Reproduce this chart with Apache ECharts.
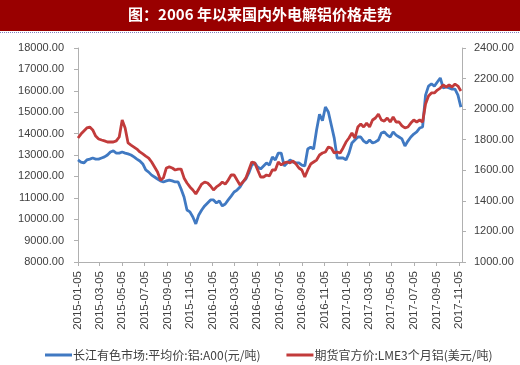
<!DOCTYPE html>
<html>
<head>
<meta charset="utf-8">
<script src="https://cdn.jsdelivr.net/npm/echarts@6/dist/echarts.min.js"></script>
<style>
html,body{margin:0;padding:0;background:#fff;}
#main{width:520px;height:365px;}
</style>
</head>
<body>
<div id="main"></div>
<script>
// ---- data ----
var titleText = '图：2006 年以来国内外电解铝价格走势';
var seriesNames = ['长江有色市场:平均价:铝:A00(元/吨)', '期货官方价:LME3个月铝(美元/吨)'];
var axisStart = '2015-01-05';
var axisEnd = '2017-11-13';
var sampleStepDays = 8; // samples every 8 days starting at axisStart
var tickLabels = ['2015-01-05','2015-03-05','2015-05-05','2015-07-05','2015-09-05','2015-11-05',
  '2016-01-05','2016-03-05','2016-05-05','2016-07-05','2016-09-05','2016-11-05',
  '2017-01-05','2017-03-05','2017-05-05','2017-07-05','2017-09-05','2017-11-05'];
var leftTicks = [8000, 18000, 1000];
var rightTicks = [1000, 2400, 200];

var cjValues = [12770,12670,12630,12770,12810,12860,12810,12810,12860,12910,
  13000,13140,13190,13090,13090,13140,13090,13050,13000,12910,
  12810,12720,12580,12300,12200,12060,11970,11880,11790,11740,
  11790,11830,11790,11740,11740,11410,11040,10430,10340,10100,
  9780,10200,10430,10620,10760,10900,10900,10760,10850,10620,
  10710,10900,11080,11270,11360,11500,11740,11880,12160,12530,
  12630,12440,12350,12490,12630,12530,12910,12770,13090,13090,
  12490,12630,12770,12670,12630,12630,12530,12490,13280,13370,
  13280,14170,14900,14600,15240,15010,14400,13790,12860,12860,
  12860,12770,13090,13560,13700,13840,13840,13650,13560,13700,
  13560,13610,13700,14030,14080,13930,13840,14080,13930,13840,
  13750,13420,13650,13840,13980,14080,14260,14310,15800,16220,
  16320,16220,16410,16600,16130,16180,16130,16080,16080,15800,
  15240];
var lmeValues = [1811,1837,1857,1877,1883,1864,1824,1805,1798,1792,
  1785,1785,1785,1792,1818,1929,1877,1779,1765,1752,
  1739,1720,1707,1693,1680,1654,1622,1589,1536,1550,
  1615,1622,1615,1602,1608,1608,1550,1517,1491,1471,
  1445,1478,1510,1523,1517,1497,1471,1491,1504,1523,
  1510,1536,1569,1569,1536,1504,1523,1550,1602,1654,
  1648,1602,1556,1556,1569,1563,1602,1602,1654,1635,
  1648,1654,1648,1661,1641,1615,1602,1556,1602,1641,
  1654,1667,1700,1713,1720,1752,1746,1713,1720,1713,
  1746,1785,1811,1844,1811,1883,1903,1883,1909,1883,
  1929,1942,1968,1929,1922,1942,1916,1949,1916,1916,
  1890,1877,1883,1909,1929,1916,1929,1916,2034,2086,
  2106,2106,2125,2138,2158,2145,2158,2145,2164,2151,
  2119];

// ---- build axis categories (daily) ----
function parseUTC(s){var p=s.split('-');return Date.UTC(+p[0],+p[1]-1,+p[2]);}
function fmt(t){var d=new Date(t);var m=d.getUTCMonth()+1,dd=d.getUTCDate();
  return d.getUTCFullYear()+'-'+(m<10?'0':'')+m+'-'+(dd<10?'0':'')+dd;}
var DAY=86400000;
var t0=parseUTC(axisStart), t1=parseUTC(axisEnd);
var categories=[];
for(var t=t0;t<=t1;t+=DAY){categories.push(fmt(t));}
function pairs(vals){
  return vals.map(function(v,i){return [fmt(t0+i*sampleStepDays*DAY), v];});
}
var tickSet={}; tickLabels.forEach(function(s){tickSet[s]=true;});
function showTick(idx,val){return !!tickSet[val];}

var chart=echarts.init(document.getElementById('main'));
var font='"Liberation Sans", Arial, sans-serif';
var cjk='"Noto Sans CJK SC", sans-serif';
chart.setOption({
  animation:false,
  backgroundColor:'#fff',
  graphic:[
    {type:'rect',left:0,top:0,shape:{width:520,height:31},style:{fill:'#990000'},z:0},
    {type:'line',shape:{x1:0,y1:32.5,x2:520,y2:32.5},style:{stroke:'#8080c0',lineWidth:1,lineDash:[1,1]},z:0},
    {type:'text',left:'center',top:7,style:{text:titleText,fill:'#ffffff',font:'bold 15px '+cjk},z:10}
  ],
  grid:{left:78,right:58,top:48,bottom:103,containLabel:false},
  legend:{
    left:40,top:344,itemWidth:27,itemHeight:3,itemGap:26,
    icon:'rect',
    textStyle:{fontSize:12,color:'#404040',fontFamily:cjk,padding:[0,0,0,-4]},
    data:seriesNames
  },
  xAxis:{
    type:'category',boundaryGap:false,data:categories,
    axisLine:{lineStyle:{color:'#b0b0b0',width:1}},
    axisTick:{show:true,interval:showTick,length:4,lineStyle:{color:'#b0b0b0'}},
    axisLabel:{interval:showTick,rotate:90,fontSize:11.5,color:'#404040',fontFamily:font,margin:9},
    splitLine:{show:false}
  },
  yAxis:[
    {type:'value',min:leftTicks[0],max:leftTicks[1],interval:leftTicks[2],
     axisLine:{show:true,lineStyle:{color:'#b0b0b0'}},
     axisTick:{show:true,length:4,lineStyle:{color:'#b0b0b0'}},
     axisLabel:{fontSize:11,color:'#404040',fontFamily:font,margin:14,formatter:function(v){return v.toFixed(2);}},
     splitLine:{show:false}},
    {type:'value',min:rightTicks[0],max:rightTicks[1],interval:rightTicks[2],position:'right',
     axisLine:{show:true,lineStyle:{color:'#b0b0b0'}},
     axisTick:{show:true,length:4,lineStyle:{color:'#b0b0b0'}},
     axisLabel:{fontSize:11,color:'#404040',fontFamily:font,margin:12,formatter:function(v){return v.toFixed(2);}},
     splitLine:{show:false}}
  ],
  series:[
    {name:seriesNames[0],type:'line',yAxisIndex:0,data:pairs(cjValues),symbol:'none',
     lineStyle:{color:'#4079c2',width:2.8},itemStyle:{color:'#4079c2'}},
    {name:seriesNames[1],type:'line',yAxisIndex:1,data:pairs(lmeValues),symbol:'none',
     lineStyle:{color:'#c23b3b',width:2.8},itemStyle:{color:'#c23b3b'}}
  ]
});
</script>
</body>
</html>
